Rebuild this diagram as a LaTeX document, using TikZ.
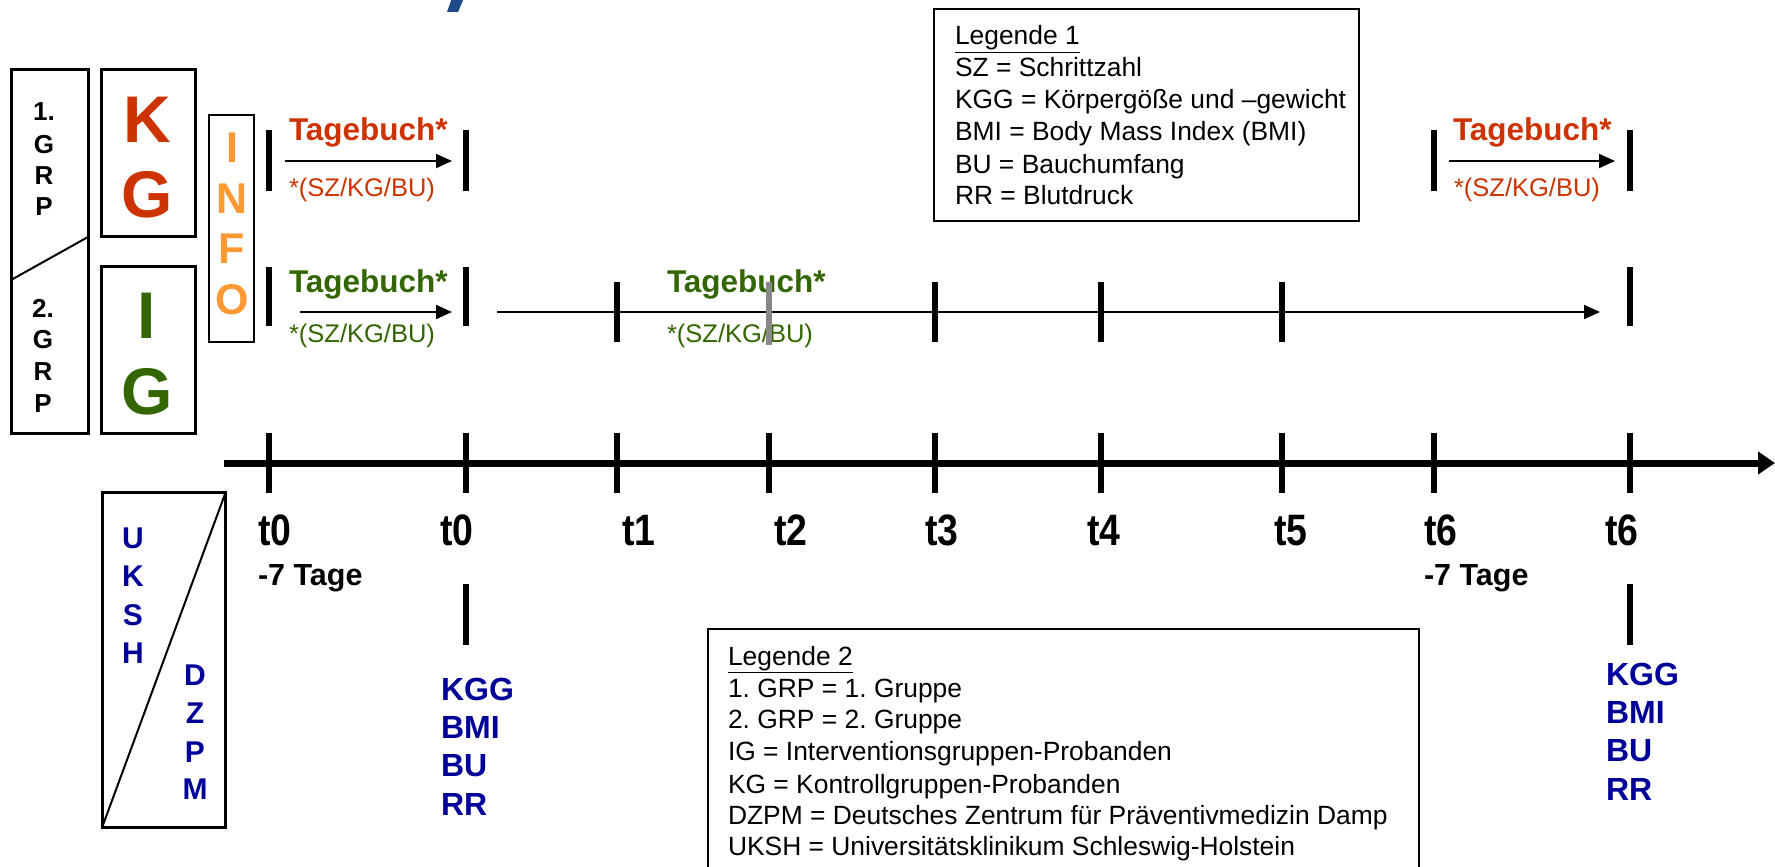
\documentclass[tikz,border=0pt]{standalone}
\usepackage{fontspec}
\setmainfont{Liberation Sans}
\newfontfamily\narrowfont[FakeStretch=0.85]{Liberation Sans}
\usetikzlibrary{arrows.meta}
\frenchspacing
\definecolor{kgred}{HTML}{CC3300}
\definecolor{igreen}{HTML}{336600}
\definecolor{infoorange}{HTML}{FF9933}
\definecolor{ublue}{HTML}{000099}
\definecolor{fragblue}{HTML}{1F4A8A}
\definecolor{tickgray}{HTML}{888888}
\tikzset{
  x=1pt, y=-1pt,
  thickbox/.style={draw=black, line width=3pt},
  thinbox/.style={draw=black, line width=1.5pt},
  tick/.style={draw=black, line width=6pt},
  flowarrow/.style={draw=black, line width=2pt, -{Triangle[length=16pt,width=14pt]}},
  timearrow/.style={draw=black, line width=7pt, -{Triangle[length=17pt,width=22pt]}},
  txt/.style={inner sep=0pt, outer sep=0pt},
  grpletter/.style={txt, anchor=base, font=\bfseries\fontsize{26}{30}\selectfont},
  bigletter/.style={txt, anchor=base, font=\bfseries\fontsize{66}{70}\selectfont},
  infoletter/.style={txt, anchor=base, text=infoorange, font=\bfseries\fontsize{43}{46}\selectfont},
  diary/.style={txt, anchor=base west, font=\bfseries\fontsize{31.5}{34}\selectfont},
  diarysub/.style={txt, anchor=base west, font=\fontsize{25.5}{30}\selectfont},
  legtext/.style={txt, anchor=base west, font=\fontsize{26.4}{30}\selectfont},
  tlabel/.style={txt, anchor=base west, font=\narrowfont\bfseries\fontsize{44}{46}\selectfont},
  daylabel/.style={txt, anchor=base west, font=\bfseries\fontsize{30.5}{34}\selectfont},
  measure/.style={txt, anchor=base west, text=ublue, font=\bfseries\fontsize{32}{36}\selectfont},
  siteletter/.style={txt, anchor=base, text=ublue, font=\bfseries\fontsize{30}{34}\selectfont}
}
\begin{document}
\begin{tikzpicture}
\useasboundingbox (0,0) rectangle (1775,867);
\clip (0,0) rectangle (1775,867);

% fragment of a cut-off title letter
\fill[fragblue] (452,-2) -- (464,-2) -- (458,12) -- (447,12) -- cycle;

% group box
\draw[thickbox] (11,70) rectangle (88,433);
\draw[line width=2pt] (88,237) -- (11,280);
\foreach \t/\y [count=\i] in {1./120, G/153, R/184, P/215}
  \node[grpletter] (ga\i) at (44,\y) {\t};
\foreach \t/\y [count=\i] in {2./317, G/348, R/380, P/412}
  \node[grpletter] (gb\i) at (43,\y) {\t};

% KG / IG boxes
\draw[thickbox] (101,70) rectangle (195,236);
\draw[thickbox] (101,266) rectangle (195,433);
\node[bigletter, text=kgred] (kgK) at (147,142) {K};
\node[bigletter, text=kgred] (kgG) at (147,217) {G};
\node[bigletter, text=igreen] (igI) at (147,338) {I};
\node[bigletter, text=igreen] (igG) at (147,414) {G};

% INFO box
\draw[thinbox] (209,115) rectangle (254,342);
\foreach \t/\y [count=\i] in {I/162, N/213, F/263, O/314}
  \node[infoletter] (info\i) at (232,\y) {\t};

% red diary row (left)
\draw[tick] (269,130) -- (269,191);
\draw[tick] (466,130) -- (466,191);
\coordinate (ra1) at (285,161);
\coordinate (ra2) at (452,161);
\draw[flowarrow] (ra1) -- (ra2);
\node[diary, text=kgred] (rd1) at (289,140) {Tagebuch*};
\node[diarysub, text=kgred] (rs1) at (289,196) {*(SZ/KG/BU)};

% red diary row (right)
\draw[tick] (1434,130) -- (1434,191);
\draw[tick] (1630,130) -- (1630,191);
\coordinate (ra3) at (1449,161);
\coordinate (ra4) at (1615,161);
\draw[flowarrow] (ra3) -- (ra4);
\node[diary, text=kgred] (rd2) at (1453,140) {Tagebuch*};
\node[diarysub, text=kgred] (rs2) at (1454,196) {*(SZ/KG/BU)};

% green diary row
\draw[tick] (269,267) -- (269,326);
\draw[tick] (466,267) -- (466,326);
\draw[tick] (1630,267) -- (1630,326);
\coordinate (ga1) at (300,312);
\coordinate (ga2) at (452,312);
\draw[flowarrow] (ga1) -- (ga2);
\node[diary, text=igreen] (gd1) at (289,292) {Tagebuch*};
\node[diarysub, text=igreen] (gs1) at (289,342) {*(SZ/KG/BU)};
\coordinate (gl1) at (497,312);
\coordinate (gl2) at (1600,312);
\draw[flowarrow] (gl1) -- (gl2);
\foreach \x in {617,935,1101,1282}
  \draw[tick] (\x,282) -- (\x,342);
\node[diary, text=igreen] (gd2) at (667,292) {Tagebuch*};
\node[diarysub, text=igreen] (gs2) at (667,342) {*(SZ/KG/BU)};
\draw[draw=tickgray, line width=6pt] (769,282) -- (769,345);

% legend 1
\draw[thinbox] (934,9) rectangle (1359,221);
\node[legtext] (l1a) at (955,45) {\underline{Legende 1}};
\node[legtext] (l1b) at (955,77) {SZ = Schrittzahl};
\node[legtext] (l1c) at (955,108) {KGG = Körpergöße und –gewicht};
\node[legtext] (l1d) at (955,140) {BMI = Body Mass Index (BMI)};
\node[legtext] (l1e) at (955,173) {BU = Bauchumfang};
\node[legtext] (l1f) at (955,204) {RR = Blutdruck};

% time axis
\coordinate (ax1) at (224,463);
\coordinate (ax2) at (1775,463);
\draw[timearrow] (ax1) -- (ax2);
\foreach \x in {269,466,617,769,935,1101,1282,1434,1630}
  \draw[tick] (\x,433) -- (\x,493);

\node[tlabel] (t0a) at (258,545) {t0};
\node[tlabel] (t0b) at (440,545) {t0};
\node[tlabel] (t1) at (622,545) {t1};
\node[tlabel] (t2) at (774,545) {t2};
\node[tlabel] (t3) at (925,545) {t3};
\node[tlabel] (t4) at (1087,545) {t4};
\node[tlabel] (t5) at (1274,545) {t5};
\node[tlabel] (t6a) at (1424,545) {t6};
\node[tlabel] (t6b) at (1605,545) {t6};
\node[daylabel] (d0) at (258,585) {-7 Tage};
\node[daylabel] (d6) at (1424,585) {-7 Tage};

% measurement ticks and lists
\draw[tick] (466,584) -- (466,645);
\draw[tick] (1630,584) -- (1630,645);
\node[measure] (m1a) at (441,700) {KGG};
\node[measure] (m1b) at (441,738) {BMI};
\node[measure] (m1c) at (441,776) {BU};
\node[measure] (m1d) at (441,815) {RR};
\node[measure] (m2a) at (1606,685) {KGG};
\node[measure] (m2b) at (1606,723) {BMI};
\node[measure] (m2c) at (1606,761) {BU};
\node[measure] (m2d) at (1606,800) {RR};

% site box
\draw[thickbox] (102,492) rectangle (225,827);
\draw[line width=2pt] (225,494) -- (103,825);
\foreach \t/\y [count=\i] in {U/548, K/586, S/625, H/663}
  \node[siteletter] (sa\i) at (133,\y) {\t};
\foreach \t/\y [count=\i] in {D/685, Z/723, P/762, M/799}
  \node[siteletter] (sb\i) at (195,\y) {\t};

% legend 2
\draw[thinbox] (708,629) rectangle (1419,890);
\node[legtext] (l2a) at (728,665) {\underline{Legende 2}};
\node[legtext] (l2b) at (728,697) {1. GRP = 1. Gruppe};
\node[legtext] (l2c) at (728,728) {2. GRP = 2. Gruppe};
\node[legtext] (l2d) at (728,760) {IG = Interventionsgruppen-Probanden};
\node[legtext] (l2e) at (728,793) {KG = Kontrollgruppen-Probanden};
\node[legtext] (l2f) at (728,824) {DZPM = Deutsches Zentrum für Präventivmedizin Damp};
\node[legtext] (l2g) at (728,855) {UKSH = Universitätsklinikum Schleswig-Holstein};
\end{tikzpicture}
\end{document}
